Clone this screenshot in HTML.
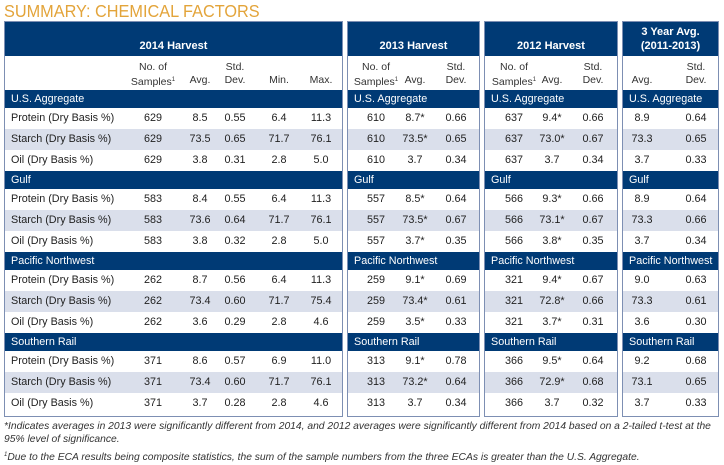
<!DOCTYPE html>
<html><head><meta charset="utf-8"><style>
*{margin:0;padding:0;box-sizing:border-box}
body{width:724px;height:465px;background:#fff;font-family:"Liberation Sans",sans-serif;position:relative;overflow:hidden;color:#222}
.t{position:absolute;left:4px;top:1px;font-size:17.5px;color:#e3a43a;transform:scaleX(0.93);transform-origin:0 0}
.p{position:absolute;top:21px;height:396px;border:1px solid #7d8fb3;background:#fff;overflow:visible}
.h{position:absolute;left:0;right:0;top:0;height:34px;background:#003a75;color:#fff;font-weight:bold;font-size:11px;text-align:center;line-height:14px}
.r{position:absolute;left:0;right:0;height:21px;font-size:10.8px;line-height:21px}
.s{position:absolute;left:0;right:0;height:18px;background:#003a75;color:#fff;font-size:10.8px;line-height:18px;padding-left:6px}
.l{background:#dadfeb}
.c{position:absolute;top:0;transform:translateX(-50%);white-space:nowrap}
.sub{position:absolute;top:34px;height:34px;left:0;right:0;font-size:10.5px;line-height:13px;color:#333}
.lb{position:absolute;left:6px;top:0}
.f{position:absolute;left:4px;font-size:10.3px;font-style:italic;color:#333;line-height:13px;white-space:nowrap}
sup{font-size:6px;vertical-align:4px}
</style></head><body>
<div class="t">SUMMARY: CHEMICAL FACTORS</div>

<!-- Panel 1 -->
<div class="p" style="left:4px;width:339px">
<div class="h" style="padding-top:17px">2014 Harvest</div>
<div class="sub"><div class="c" style="left:148px;top:5px;text-align:center">No. of<br>Samples<sup>1</sup></div><div class="c" style="left:195px;top:18px">Avg.</div><div class="c" style="left:230px;top:5px;text-align:center">Std.<br>Dev.</div><div class="c" style="left:274px;top:18px">Min.</div><div class="c" style="left:316px;top:18px">Max.</div></div>
<div class="s" style="top:68px">U.S. Aggregate</div>
<div class="r" style="top:86px"><span class="lb">Protein (Dry Basis %)</span><span class="c" style="left:148px">629</span><span class="c" style="left:195px">8.5</span><span class="c" style="left:230px">0.55</span><span class="c" style="left:274px">6.4</span><span class="c" style="left:316px">11.3</span></div>
<div class="r l" style="top:107px"><span class="lb">Starch (Dry Basis %)</span><span class="c" style="left:148px">629</span><span class="c" style="left:195px">73.5</span><span class="c" style="left:230px">0.65</span><span class="c" style="left:274px">71.7</span><span class="c" style="left:316px">76.1</span></div>
<div class="r" style="top:128px"><span class="lb">Oil (Dry Basis %)</span><span class="c" style="left:148px">629</span><span class="c" style="left:195px">3.8</span><span class="c" style="left:230px">0.31</span><span class="c" style="left:274px">2.8</span><span class="c" style="left:316px">5.0</span></div>
<div class="s" style="top:149px">Gulf</div>
<div class="r" style="top:167px"><span class="lb">Protein (Dry Basis %)</span><span class="c" style="left:148px">583</span><span class="c" style="left:195px">8.4</span><span class="c" style="left:230px">0.55</span><span class="c" style="left:274px">6.4</span><span class="c" style="left:316px">11.3</span></div>
<div class="r l" style="top:188px"><span class="lb">Starch (Dry Basis %)</span><span class="c" style="left:148px">583</span><span class="c" style="left:195px">73.6</span><span class="c" style="left:230px">0.64</span><span class="c" style="left:274px">71.7</span><span class="c" style="left:316px">76.1</span></div>
<div class="r" style="top:209px"><span class="lb">Oil (Dry Basis %)</span><span class="c" style="left:148px">583</span><span class="c" style="left:195px">3.8</span><span class="c" style="left:230px">0.32</span><span class="c" style="left:274px">2.8</span><span class="c" style="left:316px">5.0</span></div>
<div class="s" style="top:230px">Pacific Northwest</div>
<div class="r" style="top:248px"><span class="lb">Protein (Dry Basis %)</span><span class="c" style="left:148px">262</span><span class="c" style="left:195px">8.7</span><span class="c" style="left:230px">0.56</span><span class="c" style="left:274px">6.4</span><span class="c" style="left:316px">11.3</span></div>
<div class="r l" style="top:269px"><span class="lb">Starch (Dry Basis %)</span><span class="c" style="left:148px">262</span><span class="c" style="left:195px">73.4</span><span class="c" style="left:230px">0.60</span><span class="c" style="left:274px">71.7</span><span class="c" style="left:316px">75.4</span></div>
<div class="r" style="top:290px"><span class="lb">Oil (Dry Basis %)</span><span class="c" style="left:148px">262</span><span class="c" style="left:195px">3.6</span><span class="c" style="left:230px">0.29</span><span class="c" style="left:274px">2.8</span><span class="c" style="left:316px">4.6</span></div>
<div class="s" style="top:311px">Southern Rail</div>
<div class="r" style="top:329px"><span class="lb">Protein (Dry Basis %)</span><span class="c" style="left:148px">371</span><span class="c" style="left:195px">8.6</span><span class="c" style="left:230px">0.57</span><span class="c" style="left:274px">6.9</span><span class="c" style="left:316px">11.0</span></div>
<div class="r l" style="top:350px"><span class="lb">Starch (Dry Basis %)</span><span class="c" style="left:148px">371</span><span class="c" style="left:195px">73.4</span><span class="c" style="left:230px">0.60</span><span class="c" style="left:274px">71.7</span><span class="c" style="left:316px">76.1</span></div>
<div class="r" style="top:371px"><span class="lb">Oil (Dry Basis %)</span><span class="c" style="left:148px">371</span><span class="c" style="left:195px">3.7</span><span class="c" style="left:230px">0.28</span><span class="c" style="left:274px">2.8</span><span class="c" style="left:316px">4.6</span></div>
</div>

<!-- Panel 2 -->
<div class="p" style="left:347px;width:133px">
<div class="h" style="padding-top:17px">2013 Harvest</div>
<div class="sub"><div class="c" style="left:28px;top:5px;text-align:center">No. of<br>Samples<sup>1</sup></div><div class="c" style="left:67px;top:18px">Avg.</div><div class="c" style="left:108px;top:5px;text-align:center">Std.<br>Dev.</div></div>
<div class="s" style="top:68px">U.S. Aggregate</div>
<div class="r" style="top:86px"><span class="c" style="left:28px">610</span><span class="c" style="left:67px">8.7*</span><span class="c" style="left:108px">0.66</span></div>
<div class="r l" style="top:107px"><span class="c" style="left:28px">610</span><span class="c" style="left:67px">73.5*</span><span class="c" style="left:108px">0.65</span></div>
<div class="r" style="top:128px"><span class="c" style="left:28px">610</span><span class="c" style="left:67px">3.7</span><span class="c" style="left:108px">0.34</span></div>
<div class="s" style="top:149px">Gulf</div>
<div class="r" style="top:167px"><span class="c" style="left:28px">557</span><span class="c" style="left:67px">8.5*</span><span class="c" style="left:108px">0.64</span></div>
<div class="r l" style="top:188px"><span class="c" style="left:28px">557</span><span class="c" style="left:67px">73.5*</span><span class="c" style="left:108px">0.67</span></div>
<div class="r" style="top:209px"><span class="c" style="left:28px">557</span><span class="c" style="left:67px">3.7*</span><span class="c" style="left:108px">0.35</span></div>
<div class="s" style="top:230px">Pacific Northwest</div>
<div class="r" style="top:248px"><span class="c" style="left:28px">259</span><span class="c" style="left:67px">9.1*</span><span class="c" style="left:108px">0.69</span></div>
<div class="r l" style="top:269px"><span class="c" style="left:28px">259</span><span class="c" style="left:67px">73.4*</span><span class="c" style="left:108px">0.61</span></div>
<div class="r" style="top:290px"><span class="c" style="left:28px">259</span><span class="c" style="left:67px">3.5*</span><span class="c" style="left:108px">0.33</span></div>
<div class="s" style="top:311px">Southern Rail</div>
<div class="r" style="top:329px"><span class="c" style="left:28px">313</span><span class="c" style="left:67px">9.1*</span><span class="c" style="left:108px">0.78</span></div>
<div class="r l" style="top:350px"><span class="c" style="left:28px">313</span><span class="c" style="left:67px">73.2*</span><span class="c" style="left:108px">0.64</span></div>
<div class="r" style="top:371px"><span class="c" style="left:28px">313</span><span class="c" style="left:67px">3.7</span><span class="c" style="left:108px">0.34</span></div>
</div>

<!-- Panel 3 -->
<div class="p" style="left:484px;width:134px">
<div class="h" style="padding-top:17px">2012 Harvest</div>
<div class="sub"><div class="c" style="left:29px;top:5px;text-align:center">No. of<br>Samples<sup>1</sup></div><div class="c" style="left:67px;top:18px">Avg.</div><div class="c" style="left:108px;top:5px;text-align:center">Std.<br>Dev.</div></div>
<div class="s" style="top:68px">U.S. Aggregate</div>
<div class="r" style="top:86px"><span class="c" style="left:29px">637</span><span class="c" style="left:67px">9.4*</span><span class="c" style="left:108px">0.66</span></div>
<div class="r l" style="top:107px"><span class="c" style="left:29px">637</span><span class="c" style="left:67px">73.0*</span><span class="c" style="left:108px">0.67</span></div>
<div class="r" style="top:128px"><span class="c" style="left:29px">637</span><span class="c" style="left:67px">3.7</span><span class="c" style="left:108px">0.34</span></div>
<div class="s" style="top:149px">Gulf</div>
<div class="r" style="top:167px"><span class="c" style="left:29px">566</span><span class="c" style="left:67px">9.3*</span><span class="c" style="left:108px">0.66</span></div>
<div class="r l" style="top:188px"><span class="c" style="left:29px">566</span><span class="c" style="left:67px">73.1*</span><span class="c" style="left:108px">0.67</span></div>
<div class="r" style="top:209px"><span class="c" style="left:29px">566</span><span class="c" style="left:67px">3.8*</span><span class="c" style="left:108px">0.35</span></div>
<div class="s" style="top:230px">Pacific Northwest</div>
<div class="r" style="top:248px"><span class="c" style="left:29px">321</span><span class="c" style="left:67px">9.4*</span><span class="c" style="left:108px">0.67</span></div>
<div class="r l" style="top:269px"><span class="c" style="left:29px">321</span><span class="c" style="left:67px">72.8*</span><span class="c" style="left:108px">0.66</span></div>
<div class="r" style="top:290px"><span class="c" style="left:29px">321</span><span class="c" style="left:67px">3.7*</span><span class="c" style="left:108px">0.31</span></div>
<div class="s" style="top:311px">Southern Rail</div>
<div class="r" style="top:329px"><span class="c" style="left:29px">366</span><span class="c" style="left:67px">9.5*</span><span class="c" style="left:108px">0.64</span></div>
<div class="r l" style="top:350px"><span class="c" style="left:29px">366</span><span class="c" style="left:67px">72.9*</span><span class="c" style="left:108px">0.68</span></div>
<div class="r" style="top:371px"><span class="c" style="left:29px">366</span><span class="c" style="left:67px">3.7</span><span class="c" style="left:108px">0.32</span></div>
</div>

<!-- Panel 4 -->
<div class="p" style="left:622px;width:97px">
<div class="h" style="padding-top:3px">3 Year Avg.<br>(2011-2013)</div>
<div class="sub"><div class="c" style="left:19px;top:18px">Avg.</div><div class="c" style="left:73px;top:5px;text-align:center">Std.<br>Dev.</div></div>
<div class="s" style="top:68px">U.S. Aggregate</div>
<div class="r" style="top:86px"><span class="c" style="left:19px">8.9</span><span class="c" style="left:73px">0.64</span></div>
<div class="r l" style="top:107px"><span class="c" style="left:19px">73.3</span><span class="c" style="left:73px">0.65</span></div>
<div class="r" style="top:128px"><span class="c" style="left:19px">3.7</span><span class="c" style="left:73px">0.33</span></div>
<div class="s" style="top:149px">Gulf</div>
<div class="r" style="top:167px"><span class="c" style="left:19px">8.9</span><span class="c" style="left:73px">0.64</span></div>
<div class="r l" style="top:188px"><span class="c" style="left:19px">73.3</span><span class="c" style="left:73px">0.66</span></div>
<div class="r" style="top:209px"><span class="c" style="left:19px">3.7</span><span class="c" style="left:73px">0.34</span></div>
<div class="s" style="top:230px">Pacific Northwest</div>
<div class="r" style="top:248px"><span class="c" style="left:19px">9.0</span><span class="c" style="left:73px">0.63</span></div>
<div class="r l" style="top:269px"><span class="c" style="left:19px">73.3</span><span class="c" style="left:73px">0.61</span></div>
<div class="r" style="top:290px"><span class="c" style="left:19px">3.6</span><span class="c" style="left:73px">0.30</span></div>
<div class="s" style="top:311px">Southern Rail</div>
<div class="r" style="top:329px"><span class="c" style="left:19px">9.2</span><span class="c" style="left:73px">0.68</span></div>
<div class="r l" style="top:350px"><span class="c" style="left:19px">73.1</span><span class="c" style="left:73px">0.65</span></div>
<div class="r" style="top:371px"><span class="c" style="left:19px">3.7</span><span class="c" style="left:73px">0.33</span></div>
</div>

<div class="f" style="top:420px">*Indicates averages in 2013 were significantly different from 2014, and 2012 averages were significantly different from 2014 based on a 2-tailed t-test at the<br>95% level of significance.</div>
<div class="f" style="top:449px"><sup>1</sup>Due to the ECA results being composite statistics, the sum of the sample numbers from the three ECAs is greater than the U.S. Aggregate.</div>
</body></html>
